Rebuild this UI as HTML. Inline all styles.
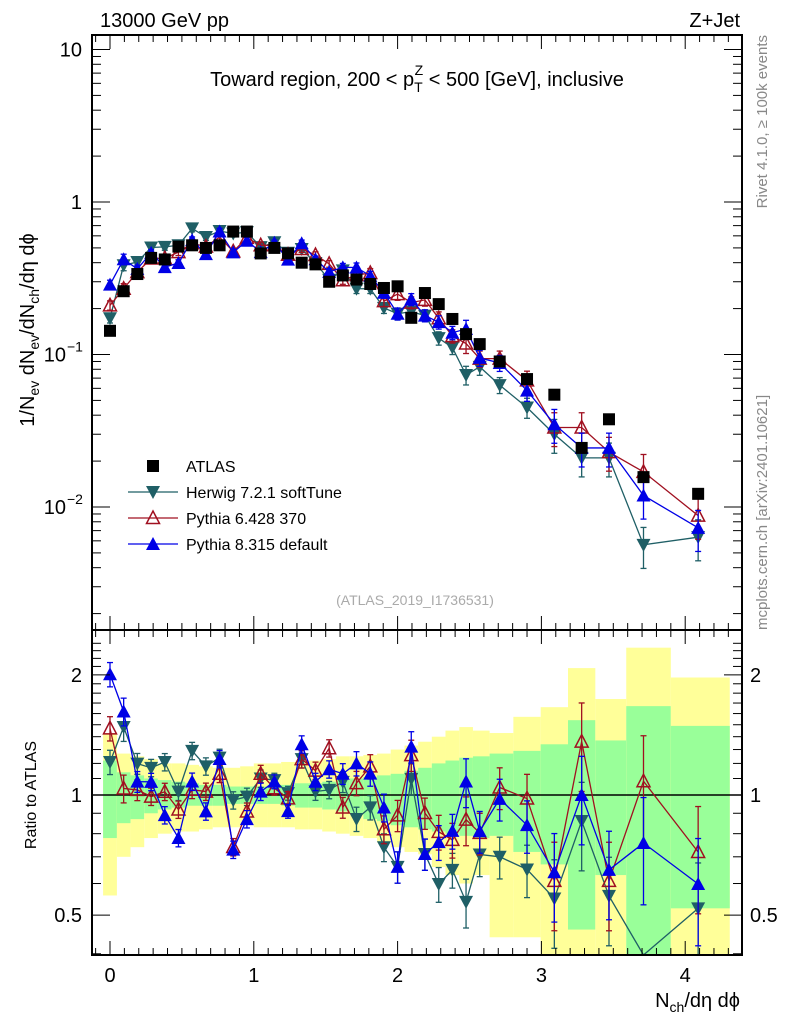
<!DOCTYPE html>
<html><head><meta charset="utf-8"><style>
html,body{margin:0;padding:0;background:#fff}
svg{display:block;font-family:"Liberation Sans",sans-serif}
</style></head><body>
<svg id="chart" width="786" height="1024" viewBox="0 0 786 1024" xmlns="http://www.w3.org/2000/svg">
<g id="bands"></g>
<g id="marks"></g>
<g id="axes"></g>
<text x="100" y="27" font-size="20">13000 GeV pp</text>
<text x="740" y="27" font-size="20" text-anchor="end">Z+Jet</text>
<text x="417" y="86" font-size="20" text-anchor="middle">Toward region, 200 &lt; p<tspan font-size="14" dy="6">T</tspan><tspan font-size="14" dx="-8" dy="-17">Z</tspan><tspan dy="11"> &lt; 500 [GeV], inclusive</tspan></text>
<text transform="translate(34,330) rotate(-90)" font-size="20" text-anchor="middle">1/N<tspan font-size="14" dy="5">ev</tspan><tspan dy="-5"> dN</tspan><tspan font-size="14" dy="5">ev</tspan><tspan dy="-5">/dN</tspan><tspan font-size="14" dy="5">ch</tspan><tspan dy="-5">/dη dϕ</tspan></text>
<text transform="translate(36,795) rotate(-90)" font-size="16" text-anchor="middle">Ratio to ATLAS</text>
<text x="740" y="1007" font-size="20" text-anchor="end">N<tspan font-size="14" dy="5">ch</tspan><tspan dy="-5">/dη dϕ</tspan></text>
<text transform="translate(767,35) rotate(-90)" font-size="15" fill="#888" text-anchor="end">Rivet 4.1.0, ≥ 100k events</text>
<text transform="translate(767,630) rotate(-90)" font-size="15" fill="#888">mcplots.cern.ch [arXiv:2401.10621]</text>
<text x="415" y="605" font-size="14" fill="#aaa" text-anchor="middle">(ATLAS_2019_I1736531)</text>
<g id="legend"></g>
</svg>
<script>
const xs=[0,0.095,0.19,0.286,0.381,0.476,0.571,0.667,0.762,0.857,0.952,1.048,1.143,1.238,1.333,1.429,1.524,1.619,1.714,1.81,1.905,2.0,2.095,2.19,2.286,2.381,2.476,2.571,2.71,2.90,3.09,3.28,3.47,3.71,4.09];
const atlas=[0.143,0.26,0.337,0.43,0.42,0.51,0.52,0.50,0.52,0.64,0.64,0.46,0.50,0.46,0.40,0.39,0.30,0.33,0.31,0.29,0.273,0.28,0.174,0.253,0.214,0.171,0.136,0.117,0.090,0.069,0.0545,0.0244,0.0376,0.0157,0.0122];
const herwig=[0.173,0.385,0.404,0.503,0.508,0.52,0.671,0.59,0.645,0.621,0.634,0.506,0.545,0.465,0.492,0.398,0.309,0.356,0.270,0.270,0.202,0.185,0.191,0.180,0.128,0.111,0.0734,0.083,0.063,0.0449,0.030,0.021,0.021,0.00565,0.00634];
const py6=[0.210,0.270,0.347,0.426,0.428,0.469,0.536,0.51,0.588,0.474,0.582,0.520,0.52,0.451,0.492,0.449,0.393,0.307,0.332,0.342,0.224,0.249,0.219,0.228,0.173,0.132,0.118,0.094,0.094,0.0676,0.0332,0.0332,0.0229,0.0170,0.00878];
const py8=[0.287,0.421,0.364,0.464,0.374,0.398,0.562,0.455,0.640,0.467,0.557,0.469,0.54,0.419,0.536,0.421,0.348,0.373,0.372,0.328,0.254,0.185,0.230,0.180,0.163,0.139,0.147,0.095,0.088,0.058,0.0349,0.0244,0.0244,0.0119,0.0073];
const relErr=[0.07,0.08,0.06,0.05,0.05,0.05,0.05,0.05,0.05,0.05,0.05,0.05,0.04,0.04,0.05,0.05,0.05,0.06,0.07,0.07,0.08,0.09,0.09,0.09,0.1,0.1,0.14,0.12,0.12,0.15,0.25,0.25,0.25,0.3,0.3];
const binEdges=[-0.048,0.048,0.143,0.238,0.333,0.429,0.524,0.619,0.714,0.81,0.905,1.0,1.095,1.19,1.286,1.381,1.476,1.571,1.667,1.762,1.857,1.952,2.048,2.143,2.238,2.333,2.429,2.524,2.64,2.805,2.995,3.185,3.375,3.59,3.90,4.31];
const yelLo=[0.56,0.70,0.74,0.78,0.80,0.81,0.81,0.82,0.83,0.83,0.84,0.83,0.83,0.83,0.82,0.82,0.81,0.80,0.79,0.78,0.76,0.74,0.72,0.71,0.66,0.63,0.60,0.63,0.44,0.44,0.3,0.3,0.3,0.3,0.3];
const yelHi=[1.43,1.27,1.25,1.23,1.20,1.20,1.19,1.18,1.17,1.17,1.18,1.20,1.20,1.21,1.21,1.22,1.23,1.25,1.25,1.26,1.27,1.30,1.33,1.36,1.40,1.45,1.48,1.45,1.43,1.57,1.66,2.08,1.74,2.34,1.97];
const grnLo=[0.78,0.85,0.87,0.90,0.92,0.93,0.94,0.94,0.94,0.95,0.95,0.95,0.95,0.94,0.93,0.93,0.92,0.91,0.90,0.87,0.86,0.84,0.83,0.82,0.81,0.80,0.79,0.78,0.79,0.72,0.67,0.46,0.63,0.3,0.52];
const grnHi=[1.22,1.14,1.12,1.10,1.09,1.08,1.07,1.06,1.06,1.05,1.05,1.05,1.06,1.06,1.07,1.07,1.08,1.09,1.10,1.11,1.12,1.13,1.15,1.17,1.20,1.22,1.24,1.25,1.27,1.29,1.34,1.54,1.37,1.67,1.49];
const topTicks=["10","1","10","10"];

const NS="http://www.w3.org/2000/svg";
const L=92,R=742,T1=35,B1=630,T2=630,B2=955;
const X=v=>110+v*143.8;
const Y1=v=>202-Math.log10(v)*152.5;
const Y2=v=>Math.min(B2,Math.max(T2,795-Math.log10(v)*399));
function mk(p,tag,at){const e=document.createElementNS(NS,tag);for(const k in at)e.setAttribute(k,at[k]);p.appendChild(e);return e;}
const bands=document.getElementById('bands'),marks=document.getElementById('marks'),axes=document.getElementById('axes'),leg=document.getElementById('legend');
for(let i=0;i<xs.length;i++){
  const x0=X(binEdges[i]),x1=X(binEdges[i+1]);
  let r=mk(bands,'rect',{x:x0,y:Y2(yelHi[i]),width:x1-x0,height:Y2(yelLo[i])-Y2(yelHi[i]),fill:'#ffff99'});
  
  r=mk(bands,'rect',{x:x0,y:Y2(grnHi[i]),width:x1-x0,height:Y2(grnLo[i])-Y2(grnHi[i]),fill:'#99ff99'});
  
}
mk(bands,'line',{x1:L,x2:R,y1:Y2(1),y2:Y2(1),stroke:'#000','stroke-width':1.5});
function marker(g,type,x,y,c,s){
  if(type==='sq')return mk(g,'rect',{x:x-6,y:y-6,width:12,height:12,fill:'#000'});
  if(type==='down')return mk(g,'polygon',{points:`${x-7},${y-6} ${x+7},${y-6} ${x},${y+7}`,fill:c});
  if(type==='up')return mk(g,'polygon',{points:`${x-7},${y+6} ${x+7},${y+6} ${x},${y-7}`,fill:c});
  return mk(g,'polygon',{points:`${x-6.5},${y+5.5} ${x+6.5},${y+5.5} ${x},${y-7}`,fill:'none',stroke:c,'stroke-width':1.5});
}
const series=[{d:herwig,c:'#1f5f66',t:'down',n:'herwig'},{d:py6,c:'#a01020',t:'open',n:'pythia6'},{d:py8,c:'#0000e6',t:'up',n:'pythia8'}];
series.forEach(s=>{
  const g=mk(marks,'g',{});
  
  const p1=s.d.map((v,i)=>X(xs[i])+','+Y1(v)).join(' ');
  mk(g,'polyline',{points:p1,fill:'none',stroke:s.c,'stroke-width':1.3});
  const p2=s.d.map((v,i)=>X(xs[i])+','+Y2(v/atlas[i])).join(' ');
  mk(g,'polyline',{points:p2,fill:'none',stroke:s.c,'stroke-width':1.3});
  s.d.forEach((v,i)=>{
    const x=X(xs[i]);
    [[Y1,v,1],[Y2,v/atlas[i],1]].forEach(([F,val])=>{
      const lo=F(val*(1-relErr[i])),hi=F(val*(1+relErr[i])),y=F(val);
      if(F===Y2&&(val<0.4))return;
      mk(g,'line',{x1:x,x2:x,y1:hi,y2:lo,stroke:s.c,'stroke-width':1.3});
      mk(g,'line',{x1:x-3,x2:x+3,y1:hi,y2:hi,stroke:s.c,'stroke-width':1.3});
      mk(g,'line',{x1:x-3,x2:x+3,y1:lo,y2:lo,stroke:s.c,'stroke-width':1.3});
      const m=marker(g,s.t,x,y,s.c);
      
      
    });
  });
});
const ga=mk(marks,'g',{});

atlas.forEach((v,i)=>{const m=marker(ga,'sq',X(xs[i]),Y1(v));});
// frames
mk(axes,'rect',{x:L,y:T1,width:R-L,height:B1-T1,fill:'none',stroke:'#000','stroke-width':2});
mk(axes,'rect',{x:L,y:T2,width:R-L,height:B2-T2,fill:'none',stroke:'#000','stroke-width':2});
// x ticks
for(let v=-0.1;v<=4.35;v+=0.1){const x=X(+v.toFixed(1));const maj=Math.abs(v-Math.round(v))<0.01;const len=maj?14:7;
  [[T1,1],[B1,-1],[T2,1],[B2,-1]].forEach(([y,d])=>mk(axes,'line',{x1:x,x2:x,y1:y,y2:y+d*len,stroke:'#000','stroke-width':1}));}
[0,1,2,3,4].forEach(v=>{const t=mk(axes,'text',{x:X(v),y:982,'font-size':20,'text-anchor':'middle'});t.textContent=v;});
// y1 ticks
for(let e=-3;e<=1;e++)for(let m=1;m<10;m++){const v=m*Math.pow(10,e);const y=Y1(v);if(y<T1||y>B1)continue;const len=m===1?18:9;
  mk(axes,'line',{x1:L,x2:L+len,y1:y,y2:y,stroke:'#000'});mk(axes,'line',{x1:R,x2:R-len,y1:y,y2:y,stroke:'#000'});}
const y1vals=[10,1,0.1,0.01],y1exp=["","","−1","−2"];
y1vals.forEach((v,i)=>{const t=mk(axes,'text',{x:y1exp[i]?66:82,y:Y1(v)+7,'font-size':20,'text-anchor':'end'});t.textContent=topTicks[i];
  if(y1exp[i]){const s=mk(axes,'text',{x:67,y:Y1(v)-3,'font-size':14});s.textContent=y1exp[i];}
  });
// y2 ticks
for(let v=0.4;v<=2.5;v+=0.1){const y=Y2(v);if(y<=T2||y>=B2)continue;const maj=[0.5,1,2].some(m=>Math.abs(m-v)<0.01);const len=maj?18:9;
  mk(axes,'line',{x1:L,x2:L+len,y1:y,y2:y,stroke:'#000'});mk(axes,'line',{x1:R,x2:R-len,y1:y,y2:y,stroke:'#000'});}
[[2,"2"],[1,"1"],[0.5,"0.5"]].forEach(([v,s])=>{
  let t=mk(axes,'text',{x:82,y:Y2(v)+7,'font-size':20,'text-anchor':'end'});t.textContent=s;
  t=mk(axes,'text',{x:750,y:Y2(v)+7,'font-size':20});t.textContent=s;});
// legend
const le=[['sq','#000','ATLAS'],['down','#1f5f66','Herwig 7.2.1 softTune'],['open','#a01020','Pythia 6.428 370'],['up','#0000e6','Pythia 8.315 default']];
le.forEach((e,i)=>{const y=466+i*26;const g=mk(leg,'g',{});
  if(e[0]!=='sq')mk(g,'line',{x1:128,x2:178,y1:y,y2:y,stroke:e[1],'stroke-width':1.3});
  marker(g,e[0],153,y,e[1]);const t=mk(g,'text',{x:186,y:y+6,'font-size':16});t.textContent=e[2];});
</script>
</body></html>
